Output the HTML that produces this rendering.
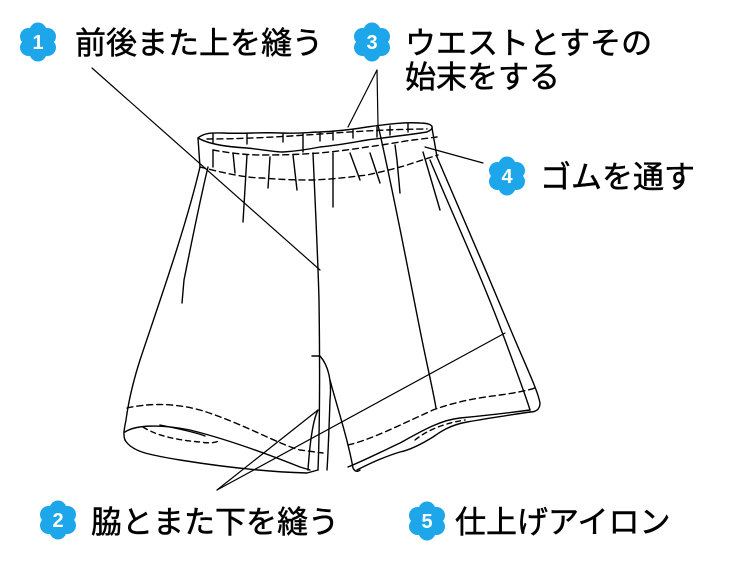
<!DOCTYPE html>
<html><head><meta charset="utf-8"><style>
html,body{margin:0;padding:0;background:#fff;}
svg{display:block}
text{font-family:"Liberation Sans","Noto Sans CJK JP",sans-serif;}
</style></head><body>
<svg width="735" height="562" viewBox="0 0 735 562" xmlns="http://www.w3.org/2000/svg">
<defs>
<g id="fl">
<circle cx="0" cy="-11" r="8.5" fill="#1da6ea"/>
<circle cx="9.5" cy="-5.5" r="8.5" fill="#1da6ea"/>
<circle cx="9.5" cy="5.5" r="8.5" fill="#1da6ea"/>
<circle cx="0" cy="11" r="8.5" fill="#1da6ea"/>
<circle cx="-9.5" cy="5.5" r="8.5" fill="#1da6ea"/>
<circle cx="-9.5" cy="-5.5" r="8.5" fill="#1da6ea"/>
<circle cx="0" cy="0" r="10" fill="#1da6ea"/>
</g>
</defs>
<g stroke="#000" stroke-width="1.4" fill="none" stroke-linecap="round" stroke-linejoin="round">
<path d="M198,138 C205,132 215,133 223,133 C245,134 260,132 280,133 C300,134 310,132 320,132 C340,131 355,129 367,127 C390,124 405,122 420,123 C428,123 433,125 432,128"/>
<path d="M198,138 C210,145 230,147 247,148 C265,150 275,152 283,152 C300,151 310,149 320,147 C340,145 355,142 367,140 C390,137 415,134 427,132 C431,130 432,129 432,128"/>
<path d="M198,138 L200,167"/>
<path d="M432,128 L437,157"/>
<path d="M207,139 C240,139 280,137 320,134 C360,131 400,129 427,129" stroke-dasharray="6,4"/>
<path d="M213,150 C235,154 250,155 263,155 C290,155 305,154 320,153 C340,151 355,149 367,147 C390,144 405,141 413,140 L437,137" stroke-dasharray="6,4"/>
<path d="M200,167 C220,172 245,178 263,178 C285,180 300,180 313,180 C335,179 350,177 367,175 C390,170 405,166 413,163 L438,155" stroke-dasharray="6,4"/>
<path d="M213,134V143 M247,134V144 M283,134V142 M303,134V152 M320,132V141 M333,131V140 M353,130V138 M377,127V137 M390,126V135 M408,124V132"/>
<path d="M213,150V167 M233,153 L235,173 M247,155 L243,222 M270,157 L268,188 M293,155 L297,190 M333,153 L333,207 M350,153 L360,180 M370,153 L380,183 M395,145 L397,160 L400,193 M423,152 L440,210"/>
<path d="M200,167 C185,230 160,300 140,360 C132,385 128,405 126,420 C124,430 123,435 125,440"/>
<path d="M208,167 C200,200 190,250 184,280 L182,303"/>
<path d="M125,440 C132,452 150,455 180,460 C230,468 270,472 307,473 L318,470"/>
<path d="M125,432 C135,425 160,424 190,430 C230,440 270,455 300,467 L310,470"/>
<path d="M127,408 C145,404 170,402 200,410 C240,422 280,445 300,450 L323,453" stroke-dasharray="6,4"/>
<path d="M143,427 C155,435 175,440 200,442 C212,444 218,442 220,440" stroke-dasharray="5,4"/>
<path d="M160,425 C175,428 195,432 205,436"/>
<path d="M313,153 C315,200 318,260 319,300 C320,370 320,420 318,470"/>
<path d="M312,356 L320,356 C328,365 332,380 330,400 C329,430 328,455 327,470"/>
<path d="M330,380 C338,410 348,440 353,468 C355,472 358,472 360,470"/>
<path d="M308,470 C310,440 313,420 318,410"/>
<path d="M437,157 C460,210 490,280 515,340 C530,375 538,392 540,403 C540,410 535,412 530,412"/>
<path d="M430,160 C455,220 483,280 505,340 C518,375 527,400 530,410"/>
<path d="M530,412 C510,415 490,418 467,422 C450,425 440,432 433,437 C420,445 410,450 400,452 C380,458 365,466 357,470"/>
<path d="M348,467 C365,460 385,450 400,443 C420,432 440,420 460,418 C490,415 515,412 530,410"/>
<path d="M348,445 C370,440 400,425 433,410 C460,400 485,397 500,395 C515,393 525,391 535,388" stroke-dasharray="6,4"/>
<path d="M415,440 C425,432 440,424 465,420" stroke-dasharray="5,4"/>
<path d="M378,125 C395,200 410,280 420,330 C428,370 433,390 436,408"/>
<path d="M92,68 L320,270" stroke-width="1.2"/>
<path d="M377,70 L348,127" stroke-width="1.2"/>
<path d="M377,70 L378,125" stroke-width="1.2"/>
<path d="M483,163 L425,147" stroke-width="1.2"/>
<path d="M217,490 L318,410" stroke-width="1.2"/>
<path d="M217,490 L505,333" stroke-width="1.2"/>
</g>
<use href="#fl" x="38" y="42"/>
<use href="#fl" x="372" y="42"/>
<use href="#fl" x="507" y="176"/>
<use href="#fl" x="58" y="520"/>
<use href="#fl" x="427" y="521"/>
<g fill="#fff" font-weight="bold" font-size="20" text-anchor="middle">
<text x="38" y="49">1</text><text x="372" y="49">3</text><text x="507" y="183">4</text><text x="58" y="527">2</text><text x="427" y="528">5</text>
</g>
<g fill="#000" stroke="#000" stroke-width="0.5" font-size="31">
<text x="75" y="54">前後また上を縫う</text>
<text x="405" y="54">ウエストとすその</text>
<text x="405" y="88">始末をする</text>
<text x="540" y="188">ゴムを通す</text>
<text x="91" y="533">脇とまた下を縫う</text>
<text x="455" y="533">仕上げアイロン</text>
</g>
</svg>
</body></html>
